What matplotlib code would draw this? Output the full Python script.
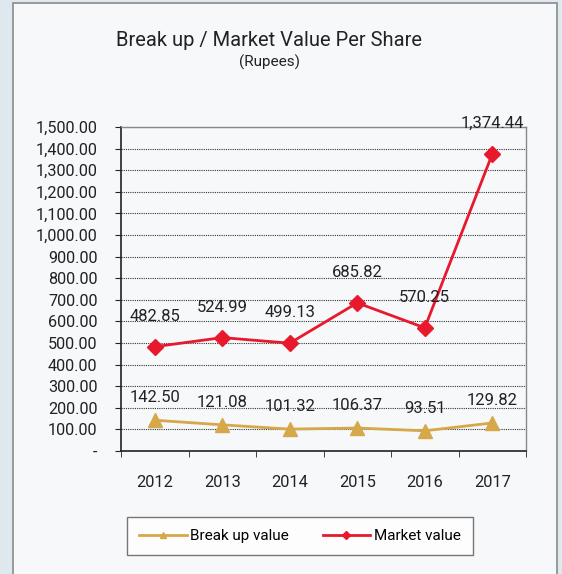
import matplotlib.pyplot as plt
from matplotlib.patches import Rectangle
from matplotlib.ticker import FuncFormatter, MultipleLocator

# Data
years = ['2012', '2013', '2014', '2015', '2016', '2017']
break_up = [142.50, 121.08, 101.32, 106.37, 93.51, 129.82]
market = [482.85, 524.99, 499.13, 685.82, 570.25, 1374.44]

GOLD = '#d6a84a'
RED = '#e8192c'

plt.rcParams['font.family'] = ['Roboto', 'DejaVu Sans']

W, H = 562, 574
fig = plt.figure(figsize=(W / 100, H / 100), dpi=100)
fig.patch.set_facecolor('#dfe7ef')

# panel behind the chart
fig.patches.append(Rectangle((13 / W, -0.01), (557 - 13) / W, 1 - 3 / H + 0.01,
                             transform=fig.transFigure, facecolor='#f6f8fa',
                             edgecolor='#8a8a8a', linewidth=1.2, zorder=-5))

ax = fig.add_axes([121 / W, 1 - 451 / H, 405 / W, 324 / H])
ax.set_zorder(2)
ax.set_facecolor('none')

x = range(len(years))
ax.plot(x, break_up, color=GOLD, lw=2, marker='^', ms=10, label='Break up value', zorder=3)
ax.plot(x, market, color=RED, lw=2, marker='D', ms=8, label='Market value', zorder=3)

for i, v in enumerate(break_up):
    ax.annotate(f'{v:,.2f}', (i, v), xytext=(0, 16), textcoords='offset points',
                ha='center', va='center', fontsize=12, color='#222222')
for i, v in enumerate(market):
    ax.annotate(f'{v:,.2f}', (i, v), xytext=(0, 22), textcoords='offset points',
                ha='center', va='center', fontsize=12, color='#222222')

ax.set_xlim(-0.5, len(years) - 0.5)
ax.set_ylim(0, 1500)
ax.yaxis.set_major_locator(MultipleLocator(100))
ax.yaxis.set_major_formatter(FuncFormatter(lambda v, p: '-' if v == 0 else f'{v:,.2f}'))
ax.set_xticks(list(x))
ax.set_xticklabels(years)
ax.set_xticks([i - 0.5 for i in range(len(years) + 1)], minor=True)
ax.tick_params(axis='x', which='major', length=0, pad=17, labelsize=11.8, colors='#222222')
ax.tick_params(axis='x', which='minor', length=4, direction='out', color='#222222')
ax.tick_params(axis='y', length=4, direction='out', pad=13, labelsize=11.7, colors='#222222')

ax.grid(axis='y', color='#333333', linestyle=(0, (1, 1)), linewidth=0.8)
ax.set_axisbelow(True)
for side in ['left', 'bottom']:
    ax.spines[side].set_color('#222222')
    ax.spines[side].set_linewidth(1.2)
for side in ['top', 'right']:
    ax.spines[side].set_color('#888888')
    ax.spines[side].set_linewidth(1)

fig.text(269 / W, 1 - 40 / H, 'Break up / Market Value Per Share', ha='center', va='center',
         fontsize=14.5, color='#222222')
fig.text(269 / W, 1 - 62 / H, '(Rupees)', ha='center', va='center', fontsize=11,
         color='#222222')

leg = fig.legend(loc='center', bbox_to_anchor=(300 / W, 1 - 536 / H), ncol=2,
                 frameon=True, fancybox=False, fontsize=11, handlelength=3.1,
                 handletextpad=0.25, markerscale=0.5, columnspacing=2.2, borderpad=0.8,
                 borderaxespad=0)
leg.get_frame().set_edgecolor('#555555')
leg.get_frame().set_linewidth(1)

fig.savefig('out.png', dpi=100, facecolor=fig.get_facecolor())
